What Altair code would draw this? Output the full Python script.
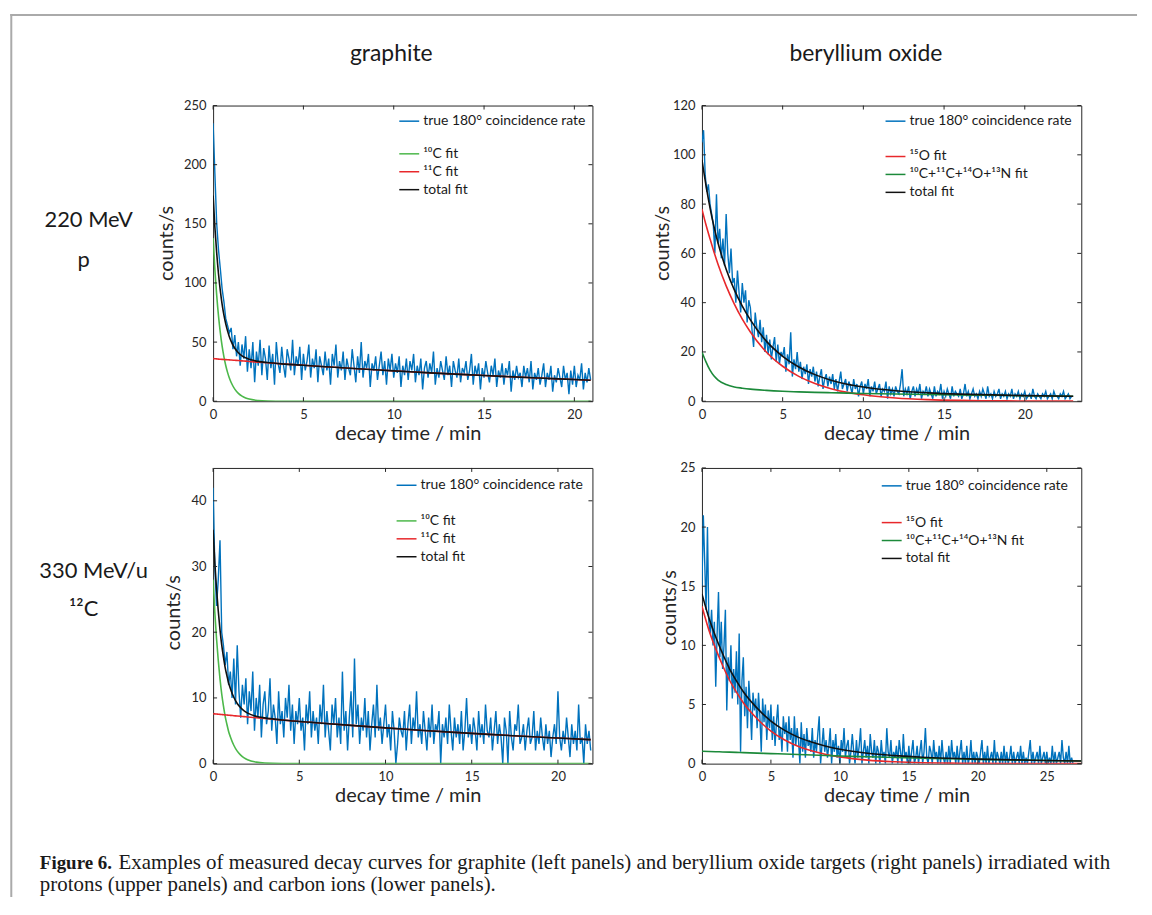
import altair as alt
import pandas as pd

DT = 0.1  # sampling step of the plotted rate (min)
RATE_NAME = "true 180° coincidence rate"

# ---------------- graphite, 220 MeV protons ----------------
G_P_RATE = [
    235, 192, 150, 128, 112, 95, 84, 70, 64, 58,
    62, 44, 56, 38, 50, 30, 48, 36, 55, 25,
    44, 28, 50, 16, 42, 30, 52, 22, 45, 36,
    18, 47, 28, 40, 14, 50, 32, 24, 46, 30,
    20, 44, 36, 26, 52, 22, 38, 30, 46, 18,
    40, 26, 34, 48, 20, 36, 28, 44, 16, 38,
    30, 22, 42, 26, 36, 14, 40, 30, 48, 20,
    34, 26, 42, 18, 36, 28, 22, 44, 30, 16,
    38, 24, 50, 20, 34, 28, 40, 12, 32, 26,
    38, 18, 30, 42, 22, 34, 14, 36, 26, 40,
    20, 32, 24, 38, 12, 30, 22, 36, 18, 34,
    26, 40, 16, 30, 22, 36, 10, 28, 34, 20,
    32, 24, 42, 14, 28, 20, 34, 26, 18, 38,
    22, 30, 12, 34, 26, 20, 36, 16, 28, 24,
    34, 18, 26, 40, 14, 30, 22, 32, 10, 28,
    20, 34, 24, 16, 30, 22, 36, 12, 26, 20,
    32, 14, 28, 22, 34, 8, 26, 18, 30, 20,
    24, 12, 30, 20, 28, 16, 34, 10, 24, 18,
    28, 14, 22, 32, 12, 24, 18, 30, 8, 22,
    16, 28, 20, 12, 30, 18, 24, 6, 26, 14,
    30, 12, 22, 18, 32, 10, 24, 16, 28, 18,
]
G_P_FIT_T = [0, 0.1, 0.2, 0.3, 0.4, 0.5, 0.6, 0.7, 0.8, 0.9, 1.0, 1.2, 1.4, 1.6, 1.8,
             2.0, 2.5, 3, 4, 5, 6, 8, 10, 12, 14, 16, 18, 20, 20.9]
G_P_C10 = [138, 111, 89.5, 72, 58, 46.5, 37.5, 30.2, 24.4, 19.6, 15.8, 10.2, 6.6, 4.3, 2.8,
           1.8, 0.6, 0.2, 0.02, 0, 0, 0, 0, 0, 0, 0, 0, 0, 0]
G_P_C11 = [36.0, 35.9, 35.8, 35.6, 35.5, 35.4, 35.3, 35.2, 35.1, 35.0, 34.8, 34.6, 34.4, 34.1, 33.9,
           33.6, 33.1, 32.5, 31.4, 30.4, 29.4, 27.4, 25.7, 24.0, 22.5, 21.0, 19.6, 18.4, 17.8]
G_P_TOT = [174, 146.9, 125.3, 107.6, 93.5, 81.9, 72.8, 65.4, 59.5, 54.6, 50.6, 44.8, 41.0, 38.4, 36.7,
           35.4, 33.7, 32.7, 31.4, 30.4, 29.4, 27.4, 25.7, 24.0, 22.5, 21.0, 19.6, 18.4, 17.8]

# ---------------- beryllium oxide, 220 MeV protons ----------------
B_P_RATE = [
    105, 110, 92, 85, 88, 80, 76, 72, 60, 84,
    64, 70, 58, 66, 55, 76, 60, 52, 62, 48,
    50, 40, 53, 44, 36, 48, 40, 45, 32, 41,
    38, 29, 22, 36, 30, 26, 33, 24, 30, 20,
    27, 19, 25, 17, 22, 26, 16, 23, 15, 20,
    18, 22, 12, 19, 15, 28, 10, 17, 13, 20,
    12, 16, 9, 14, 11, 15, 7, 13, 10, 14,
    8, 12, 6, 10, 13, 5, 9, 11, 6, 10,
    7, 11, 5, 9, 4, 8, 12, 5, 7, 9,
    4, 8, 6, 3, 9, 5, 7, 2, 6, 8,
    3, 7, 5, 9, 2, 6, 4, 8, 3, 5,
    7, 2, 5, 4, 8, 1, 6, 3, 5, 2,
    6, 4, 3, 7, 13, 2, 5, 3, 6, 1,
    4, 6, 2, 5, 3, 7, 1, 4, 3, 6,
    2, 5, 3, 1, 6, 2, 4, 3, 7, 1,
    4, 2, 5, 3, 1, 6, 2, 4, 3, 2,
    5, 1, 3, 7, 2, 4, 1, 3, 5, 2,
    3, 1, 4, 2, 5, 3, 1, 6, 2, 3,
    1, 4, 2, 3, 5, 1, 3, 2, 4, 1,
    3, 2, 5, 1, 3, 2, 4, 1, 3, 2,
    4, 1, 2, 3, 1, 5, 2, 1, 3, 2,
    1, 3, 2, 4, 1, 2, 3, 1, 4, 2,
    2, 1, 3, 2, 4, 1, 2, 3, 1, 2,
]
B_P_FIT_T = [0, 0.25, 0.5, 0.75, 1, 1.5, 2, 2.5, 3, 4, 5, 6, 7, 8, 9, 10, 12, 14, 16, 18, 20, 23]
B_P_O15 = [78, 71.6, 65.9, 60.5, 55.5, 46.8, 39.5, 33.3, 28.1, 19.9, 14.2, 10.1, 7.2, 5.1, 3.6,
           2.6, 1.3, 0.66, 0.34, 0.17, 0.09, 0.03]
B_P_MIX = [20, 16, 12.6, 10.2, 8.6, 6.8, 5.8, 5.3, 4.9, 4.4, 4.05, 3.8, 3.6, 3.45, 3.3,
           3.15, 2.95, 2.75, 2.55, 2.4, 2.2, 2.0]
B_P_TOT = [98, 87.6, 78.5, 70.7, 64.1, 53.6, 45.3, 38.6, 33.0, 24.3, 18.25, 13.9, 10.8, 8.55, 6.9,
           5.75, 4.25, 3.41, 2.89, 2.57, 2.29, 2.03]

# ---------------- graphite, 330 MeV/u carbon ions ----------------
G_C_RATE = [
    42, 30, 24, 28, 34, 20, 18, 15, 17, 12,
    14, 10, 16, 9, 18, 11, 7, 12, 9, 13,
    6, 11, 8, 14, 5, 10, 7, 12, 4, 9,
    11, 6, 8, 13, 5, 9, 7, 3, 11, 6,
    8, 4, 10, 7, 12, 5, 9, 3, 8, 6,
    10, 5, 7, 2, 9, 6, 11, 4, 8, 5,
    7, 3, 9, 6, 12, 4, 8, 5, 2, 9,
    6, 10, 4, 7, 3, 14, 5, 8, 2, 7,
    11, 4, 16, 6, 9, 3, 7, 5, 10, 4,
    8, 2, 6, 9, 4, 12, 5, 7, 3, 6,
    9, 4, 6, 2, 8, 5, 0, 3, 7, 5,
    4, 8, 2, 6, 9, 3, 7, 5, 11, 4,
    6, 3, 8, 5, 2, 7, 4, 9, 3, 6,
    5, 8, 0, 6, 4, 7, 3, 9, 5, 2,
    7, 4, 6, 3, 8, 2, 5, 10, 4, 6,
    3, 7, 5, 2, 8, 4, 6, 3, 9, 5,
    4, 7, 2, 5, 8, 3, 6, 4, 0, 7,
    5, 0, 8, 4, 2, 6, 5, 9, 3, 4,
    6, 2, 5, 7, 3, 4, 8, 2, 5, 3,
    7, 4, 2, 6, 3, 5, 1, 4, 6, 3,
    11, 4, 2, 5, 3, 7, 4, 1, 6, 3,
    5, 2, 9, 3, 4, 0, 6, 3, 5, 2,
]
G_C_FIT_T = [0, 0.1, 0.2, 0.3, 0.4, 0.5, 0.6, 0.7, 0.8, 0.9, 1.0, 1.2, 1.4, 1.6, 1.8,
             2.0, 2.5, 3, 4, 5, 6, 8, 10, 12, 14, 16, 18, 20, 21.9]
G_C_C10 = [28, 23.0, 19.0, 15.7, 12.9, 10.6, 8.8, 7.2, 6.0, 4.9, 4.1, 2.8, 1.9, 1.3, 0.87,
           0.59, 0.23, 0.09, 0.01, 0, 0, 0, 0, 0, 0, 0, 0, 0, 0]
G_C_C11 = [7.6, 7.57, 7.55, 7.52, 7.5, 7.47, 7.45, 7.42, 7.4, 7.37, 7.35, 7.3, 7.25, 7.2, 7.15,
           7.1, 6.98, 6.87, 6.64, 6.42, 6.22, 5.82, 5.44, 5.09, 4.76, 4.45, 4.16, 3.89, 3.65]
G_C_TOT = [35.6, 30.57, 26.55, 23.22, 20.4, 18.07, 16.25, 14.62, 13.4, 12.27, 11.45, 10.1, 9.15, 8.5, 8.02,
           7.69, 7.21, 6.96, 6.65, 6.42, 6.22, 5.82, 5.44, 5.09, 4.76, 4.45, 4.16, 3.89, 3.65]

# ---------------- beryllium oxide, 330 MeV/u carbon ions ----------------
B_C_RATE = [
    15, 21, 17, 13, 20, 12, 11, 13, 10, 12,
    6.5, 11, 14.5, 9, 12, 8, 10, 13, 4.5, 9,
    7, 10, 5.5, 8, 6, 9.5, 5, 11, 1, 7,
    9, 4, 6.5, 3, 7, 5, 2, 6, 4.5, 5.5,
    3, 6, 4, 1, 5.5, 3.5, 5, 2, 4.5, 3,
    5, 2, 4, 1.5, 3.5, 5, 2, 3, 1, 4,
    2.5, 3.5, 1, 4, 2, 3, 0.5, 4, 1.5, 3,
    2, 0, 3.5, 1, 2.5, 0.5, 3, 1.5, 2, 1,
    3, 0.5, 2, 1, 2.5, 4, 0, 1.5, 3, 1,
    2, 0.5, 1.5, 3, 0, 2, 1, 2.5, 0.5, 1.5,
    0, 2, 1, 3, 0.5, 1.5, 2, 0, 1, 2.5,
    1, 0, 2, 0.5, 1.5, 3, 0, 1, 2, 0.5,
    1.5, 0, 2.5, 1, 0.5, 2, 0, 1.5, 1, 0,
    2, 0.5, 1, 0, 3, 1, 0.5, 2, 0, 1,
    0.5, 1.5, 0, 2, 1, 0, 2.5, 0.5, 1, 0,
    1.5, 0, 1, 2, 0, 0.5, 1.5, 0, 1, 2,
    0, 1, 3, 0.5, 0, 1.5, 1, 0, 2, 0.5,
    1, 0, 1.5, 0, 2, 0.5, 0, 1, 0, 1.5,
    0, 2, 0.5, 1, 0, 1.5, 0, 1, 2, 0,
    1, 0, 1.5, 0, 0.5, 2, 0, 1, 0, 1,
    0.5, 0, 1, 2, 0, 1, 0, 1.5, 0, 0.5,
    1, 0, 2, 0, 1, 0.5, 0, 1, 0, 1.5,
    0, 1, 0, 0.5, 1.5, 0, 1, 0, 0.5, 1,
    0, 1.5, 0, 1, 0, 0.5, 0, 1, 2, 0,
    1, 0, 0.5, 1, 0, 1.5, 0, 0.5, 1, 0,
    1, 0, 0.5, 0, 1.5, 0, 1, 0, 0.5, 1,
    0, 2, 0.5, 0, 1, 0, 1.5, 0, 0.5, 0,
]
B_C_FIT_T = [0, 0.5, 1, 1.5, 2, 2.5, 3, 4, 5, 6, 7, 8, 9, 10, 12, 14, 16, 18, 20, 24, 27.5]
B_C_O15 = [13.3, 11.3, 9.7, 8.3, 7.05, 6.05, 5.15, 3.8, 2.75, 2.0, 1.45, 1.07, 0.78, 0.57,
           0.3, 0.16, 0.08, 0.04, 0.02, 0.01, 0]
B_C_MIX = [1.05, 1.03, 1.01, 0.99, 0.97, 0.95, 0.93, 0.89, 0.85, 0.81, 0.77, 0.73, 0.69, 0.65,
           0.58, 0.52, 0.46, 0.41, 0.36, 0.28, 0.22]
B_C_TOT = [14.35, 12.33, 10.71, 9.29, 8.02, 7.0, 6.08, 4.69, 3.6, 2.81, 2.22, 1.8, 1.47, 1.22,
           0.88, 0.68, 0.54, 0.45, 0.38, 0.29, 0.22]

GRAPHITE_FITS = ["¹⁰C fit", "¹¹C fit", "total fit"]
BEO_FITS = ["¹⁵O fit", "¹⁰C+¹¹C+¹⁴O+¹³N fit", "total fit"]

BLUE = "#0072BD"
RED = "#E8282B"
GREEN_L = "#4CB84A"
GREEN_D = "#1C8A3A"
BLACK = "#111111"
AX = "#262626"
TXT = "#1a1a1a"
FONT = "Lato"
SERIF = "Liberation Serif"
W, H = 381, 297


def legend(x, y):
    return alt.Legend(orient="none", legendX=x, legendY=y, title=None, symbolType="stroke",
                      symbolSize=400, symbolStrokeWidth=1.5, labelFont=FONT, labelFontSize=14,
                      labelColor=TXT, labelOffset=3, rowPadding=0, padding=0, labelLimit=500)


def one_row():
    return alt.Data(values=[{"k": 0}])


def text_layer(txt, x, y, size, align="center", weight="normal", font=FONT, color=TXT):
    return alt.Chart(one_row()).mark_text(
        text=txt, align=align, baseline="alphabetic", font=font, fontSize=size,
        fontWeight=weight, color=color
    ).encode(x=alt.value(x), y=alt.value(y))


def rule_layer(x, x2, y, y2, color="#aaaaaa", width=2):
    return alt.Chart(one_row()).mark_rule(color=color, strokeWidth=width).encode(
        x=alt.value(x), x2=alt.value(x2), y=alt.value(y), y2=alt.value(y2))


def panel(rate, fit_t, fit_series, fit_names, fit_colors, xdom, ydom, xticks, yticks,
          leg, ytpad, ytitle_y, extras):
    xs = alt.Scale(domain=xdom, nice=False, zero=False)
    ys = alt.Scale(domain=ydom, nice=False, zero=False)
    rate_df = pd.DataFrame({"t": [round(i * DT, 2) for i in range(len(rate))],
                            "v": rate, "s": RATE_NAME})
    xaxis = alt.Axis(values=xticks, title="decay time / min", grid=False, domain=False,
                     ticks=False, tickSize=0, labelPadding=7, titlePadding=2, labelFlush=False,
                     labelFont=FONT, labelFontSize=13, labelColor=AX,
                     titleFont=FONT, titleFontSize=20, titleFontWeight="normal", titleColor=AX,
                     titleX=W / 2 + 5)
    yaxis = alt.Axis(values=yticks, title="counts/s", grid=False, domain=False,
                     ticks=False, tickSize=0, labelPadding=7, titlePadding=ytpad,
                     labelFont=FONT, labelFontSize=13, labelColor=AX,
                     titleFont=FONT, titleFontSize=20, titleFontWeight="normal", titleColor=AX,
                     titleY=ytitle_y)
    X = lambda: alt.X("t:Q", scale=xs, axis=xaxis)
    Y = lambda: alt.Y("v:Q", scale=ys, axis=yaxis)
    blue = alt.Chart(rate_df).mark_line(strokeWidth=1.4, clip=True).encode(
        x=X(), y=Y(),
        color=alt.Color("s:N", scale=alt.Scale(domain=[RATE_NAME], range=[BLUE]),
                        legend=legend(leg[0], leg[1])),
    )
    rows = []
    for name, vals in zip(fit_names, fit_series):
        for t, v in zip(fit_t, vals):
            rows.append({"t": t, "v": v, "s": name})
    fit_df = pd.DataFrame(rows)
    fit_scale = alt.Scale(domain=fit_names, range=fit_colors)
    fit_leg = legend(leg[0], leg[2])
    fits = alt.layer(*[
        alt.Chart(fit_df).transform_filter(alt.datum.s == name).mark_line(
            strokeWidth=1.6, interpolate="monotone", clip=True).encode(
            x=X(), y=Y(),
            color=alt.Color("s:N", scale=fit_scale, legend=fit_leg))
        for name in fit_names
    ])
    xt = pd.DataFrame({"t": xticks})
    yt = pd.DataFrame({"v": yticks})
    ticks = [
        alt.Chart(xt).mark_rule(color=AX, strokeWidth=1).encode(
            x=X(), y=alt.value(H), y2=alt.value(H - 4)),
        alt.Chart(xt).mark_rule(color=AX, strokeWidth=1).encode(
            x=X(), y=alt.value(0), y2=alt.value(4)),
        alt.Chart(yt).mark_rule(color=AX, strokeWidth=1).encode(
            y=Y(), x=alt.value(0), x2=alt.value(4)),
        alt.Chart(yt).mark_rule(color=AX, strokeWidth=1).encode(
            y=Y(), x=alt.value(W), x2=alt.value(W - 4)),
    ]
    return alt.layer(blue, fits, *ticks, *extras).resolve_scale(color="independent").properties(
        width=W, height=H)


p1_extras = [
    rule_layer(-203.7, 928, -91, -91),
    rule_layer(-202.7, -202.7, -92, 795),
    text_layer("graphite", 179, -45, 23),
    text_layer("220 MeV", -125, 122, 22),
    text_layer("p", -130, 162, 22),
]
p2_extras = [
    text_layer("beryllium oxide", 164.7, -45, 23),
]
p3_extras = [
    text_layer("330 MeV/u", -120, 110.7, 22),
    text_layer("¹²C", -130, 148.7, 22),
    text_layer("Figure 6.", -174, 402.7, 19, align="left", weight="bold", font=SERIF),
    text_layer("Examples of measured decay curves for graphite (left panels) and beryllium oxide "
               "targets (right panels) irradiated with", -95, 402.7, 21, align="left", font=SERIF),
    text_layer("protons (upper panels) and carbon ions (lower panels).", -174, 424.7, 21,
               align="left", font=SERIF),
]

p1 = panel(G_P_RATE, G_P_FIT_T, [G_P_C10, G_P_C11, G_P_TOT], GRAPHITE_FITS,
           [GREEN_L, RED, BLACK], [0, 21], [0, 250], [0, 5, 10, 15, 20],
           [0, 50, 100, 150, 200, 250], (186, 4.7, 37.5), 7, 138, p1_extras)
p2 = panel(B_P_RATE, B_P_FIT_T, [B_P_O15, B_P_MIX, B_P_TOT], BEO_FITS,
           [RED, GREEN_D, BLACK], [0, 23.5], [0, 120], [0, 5, 10, 15, 20],
           [0, 20, 40, 60, 80, 100, 120], (183.4, 4.7, 40.2), 0, 138, p2_extras)
p3 = panel(G_C_RATE, G_C_FIT_T, [G_C_C10, G_C_C11, G_C_TOT], GRAPHITE_FITS,
           [GREEN_L, RED, BLACK], [0, 22], [0, 45], [0, 5, 10, 15, 20],
           [0, 10, 20, 30, 40], (183.3, 6.4, 42.2), 8, 145, p3_extras)
p4 = panel(B_C_RATE, B_C_FIT_T, [B_C_O15, B_C_MIX, B_C_TOT], BEO_FITS,
           [RED, GREEN_D, BLACK], [0, 27.5], [0, 25], [0, 5, 10, 15, 20, 25],
           [0, 5, 10, 15, 20, 25], (179.6, 7, 43.9), 0, 140, [])

chart = alt.concat(
    p1, p2, p3, p4, columns=2, spacing={"row": 67, "column": 110}, bounds="flush"
).resolve_scale(color="independent").properties(
    padding={"left": 0, "top": 2, "right": 5, "bottom": 0}, background="white"
).configure(font=FONT).configure_view(stroke=AX, strokeWidth=1)

chart.save("out.html", embed_options={"renderer": "svg", "actions": False})
